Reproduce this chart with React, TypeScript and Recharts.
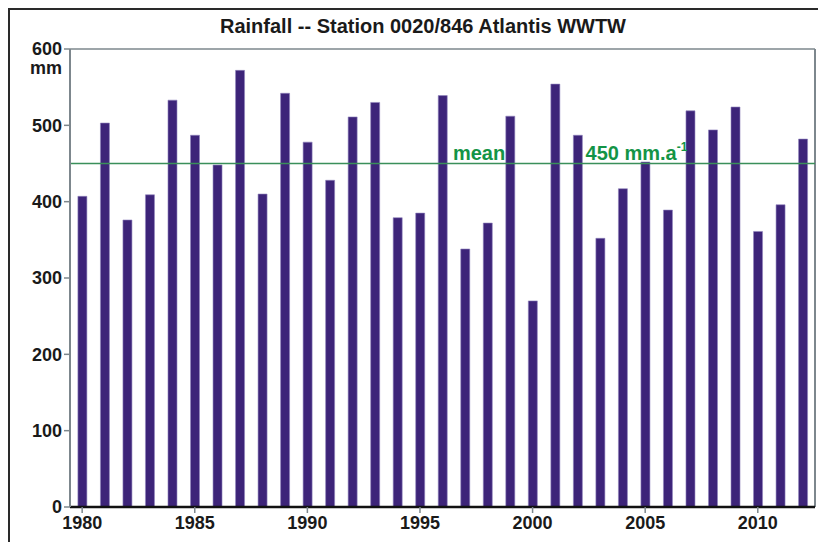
import React from "react"
import { Bar, BarChart, ReferenceLine, XAxis, YAxis } from "recharts"

const years = [
  1980, 1981, 1982, 1983, 1984, 1985, 1986, 1987, 1988, 1989, 1990, 1991, 1992, 1993, 1994, 1995, 1996,
  1997, 1998, 1999, 2000, 2001, 2002, 2003, 2004, 2005, 2006, 2007, 2008, 2009, 2010, 2011, 2012,
]
const rainfall = [
  407, 503, 376, 409, 533, 487, 448, 572, 410, 542, 478, 428, 511, 530, 379, 385, 539, 338, 372, 512, 270,
  554, 487, 352, 417, 452, 389, 519, 494, 524, 361, 396, 482,
]
const meanRain = 450
const xTicks = [1980, 1985, 1990, 1995, 2000, 2005, 2010]
const yTicks = [0, 100, 200, 300, 400, 500, 600]
const xDomain = [1979.46, 2012.54]

const data = years.map((year, i) => ({ year, rain: rainfall[i] }))

const font = "'Liberation Sans', Arial, Helvetica, sans-serif"
const axisGrey = "#7d878d"
const green = "#139446"

function MeanLabel({ viewBox }: any) {
  const { x, y, width } = viewBox
  return (
    <g fontFamily={font} fontWeight="bold" fill={green} fontSize={20}>
      <text x={x + width * 0.514} y={y - 4}>mean</text>
      <text x={x + width * 0.692} y={y - 4}>
        {meanRain} mm.a<tspan dy={-9} fontSize={12}>-1</tspan>
      </text>
    </g>
  )
}

export default function App() {
  return (
    <div style={{ position: "relative", width: 826, height: 550, margin: -8, background: "#fff", fontFamily: font }}>
      <div
        style={{
          position: "absolute",
          left: 20,
          top: 15,
          width: 806,
          textAlign: "center",
          fontWeight: "bold",
          fontSize: 20,
          color: "#1a1a1a",
        }}
      >
        Rainfall -- Station 0020/846 Atlantis WWTW
      </div>
      <div
        style={{
          position: "absolute",
          left: 20,
          top: 59,
          width: 42,
          textAlign: "right",
          fontWeight: "bold",
          fontSize: 18,
          lineHeight: "18px",
          color: "#1a1a1a",
        }}
      >
        mm
      </div>
      <BarChart width={826} height={550} data={data} margin={{ top: 49, right: 11, left: 10, bottom: 13 }}>
        <XAxis
          dataKey="year"
          type="number"
          domain={xDomain}
          ticks={xTicks}
          interval={0}
          height={30}
          tickSize={6}
          tickMargin={3}
          axisLine={{ stroke: "#111", strokeWidth: 2.5 }}
          tickLine={{ stroke: axisGrey, strokeWidth: 1.5 }}
          tick={{ fill: "#1a1a1a", fontSize: 18, fontWeight: "bold", fontFamily: font }}
        />
        <YAxis
          type="number"
          domain={[0, 600]}
          ticks={yTicks}
          interval={0}
          width={60}
          tickSize={6}
          tickMargin={2}
          axisLine={{ stroke: axisGrey, strokeWidth: 2 }}
          tickLine={{ stroke: axisGrey, strokeWidth: 1.5 }}
          tick={{ fill: "#1a1a1a", fontSize: 18, fontWeight: "bold", fontFamily: font }}
        />
        <ReferenceLine y={600} stroke={axisGrey} strokeWidth={1.5} />
        <ReferenceLine x={xDomain[1]} stroke={axisGrey} strokeWidth={2} />
        <Bar dataKey="rain" barSize={9} fill="#3d2479" stroke="#9085bd" strokeWidth={0.6} isAnimationActive={false} />
        <ReferenceLine y={meanRain} stroke="#3a8f5a" strokeWidth={1.5} label={<MeanLabel />} />
      </BarChart>
      {/* outer frame, only left and top edges are in view */}
      <svg
        width={826}
        height={550}
        style={{ position: "absolute", left: 0, top: 0, pointerEvents: "none" }}
      >
        <path d="M9 550 V9 H826" fill="none" stroke="#2a2a2a" strokeWidth={2} />
      </svg>
    </div>
  )
}
